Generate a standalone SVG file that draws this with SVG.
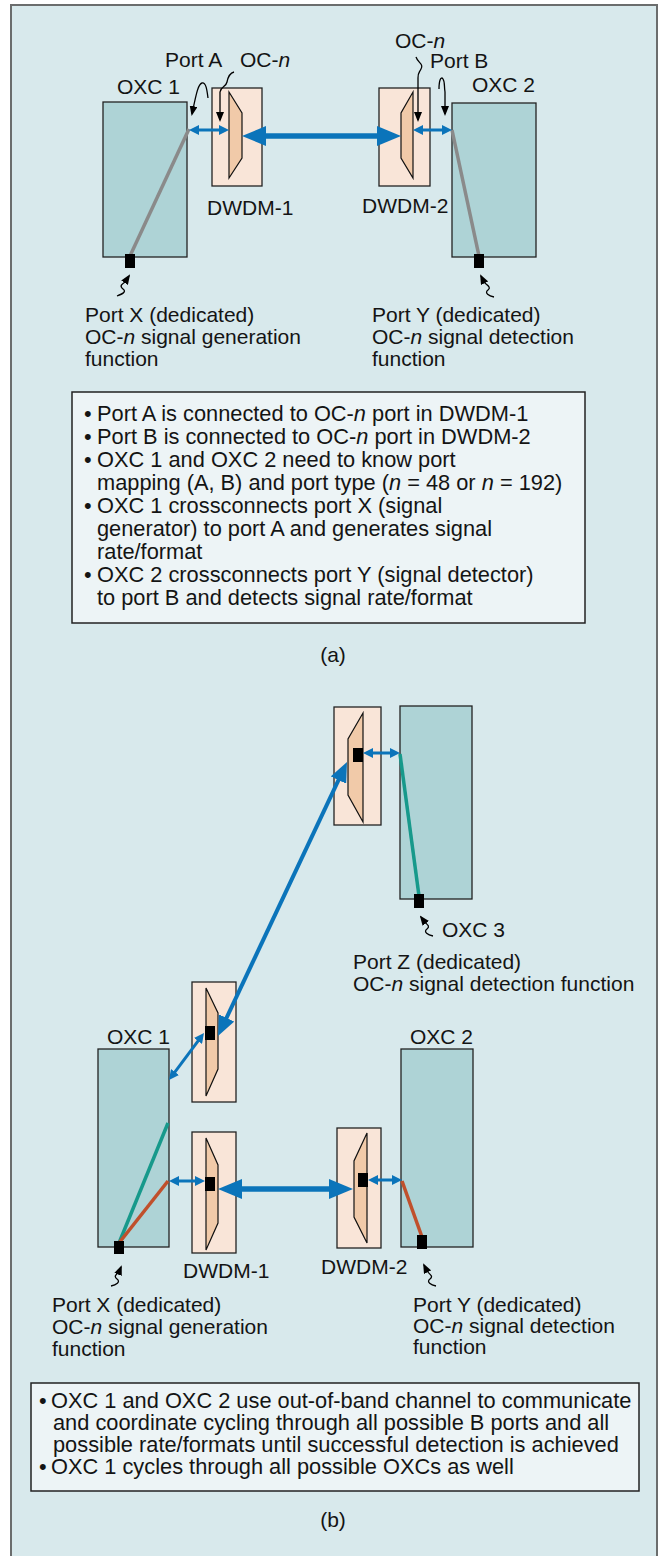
<svg xmlns="http://www.w3.org/2000/svg" width="661" height="1556" viewBox="0 0 661 1556">
<defs>
<style>
text{font-family:"Liberation Sans",Arial,sans-serif;font-size:21px;fill:#141414}
.bt{font-size:21.8px}
.i{font-style:italic}
.mid{text-anchor:middle}
.frame{fill:#d8e9ec;stroke:#6b6d6d;stroke-width:2}
.oxc{fill:#aed3d6;stroke:#222;stroke-width:1.3}
.dbox{fill:#f9e5d8;stroke:#222;stroke-width:1.3}
.trap{fill:#f1caa9;stroke:#111;stroke-width:1.2}
.port{fill:#000}
.note{fill:#edf4f6;stroke:#222;stroke-width:1.5}
.bs{stroke:#0b74ba;stroke-width:3;fill:none;marker-start:url(#hs);marker-end:url(#hs)}
.bl{stroke:#0b74ba;stroke-width:5.5;fill:none;marker-start:url(#hl);marker-end:url(#hl)}
.bm{stroke:#0b74ba;stroke-width:4;fill:none;marker-start:url(#hm);marker-end:url(#hm)}
.xg{stroke:#8a8a8a;stroke-width:3.5;fill:none}
.xt{stroke:#17998b;stroke-width:3.5;fill:none}
.xr{stroke:#c0502c;stroke-width:3.5;fill:none}
.co{stroke:#000;stroke-width:1.3;fill:none;marker-end:url(#hc)}
</style>
<marker id="hs" markerUnits="userSpaceOnUse" markerWidth="10" markerHeight="10" refX="4" refY="5" orient="auto-start-reverse"><path d="M0,0 L10,5 L0,10 z" fill="#0b74ba"/></marker>
<marker id="hl" markerUnits="userSpaceOnUse" markerWidth="24" markerHeight="20" refX="6" refY="10" orient="auto-start-reverse"><path d="M0,0 L24,10 L0,20 z" fill="#0b74ba"/></marker>
<marker id="hm" markerUnits="userSpaceOnUse" markerWidth="20" markerHeight="17" refX="5" refY="8.5" orient="auto-start-reverse"><path d="M0,0 L20,8.5 L0,17 z" fill="#0b74ba"/></marker>
<marker id="hc" markerUnits="userSpaceOnUse" markerWidth="10" markerHeight="8" refX="8" refY="4" orient="auto"><path d="M0,0 L10,4 L0,8 z" fill="#000"/></marker>
</defs>

<rect class="frame" x="11" y="5" width="646" height="1570"/>

<!-- ===== (a) ===== -->
<g id="oxc1-a">
<rect class="oxc" x="103" y="102" width="84" height="155"/>
<text x="117" y="94">OXC 1</text>
</g>
<g id="oxc2-a">
<rect class="oxc" x="452" y="103" width="84" height="154"/>
<text x="472" y="92">OXC 2</text>
</g>
<g id="dwdm1-a">
<rect class="dbox" x="212" y="88" width="50" height="98"/>
<polygon class="trap" points="229,92 242,113 242,158 229,178"/>
<text x="207" y="215">DWDM-1</text>
</g>
<g id="dwdm2-a">
<rect class="dbox" x="379" y="88" width="51" height="98"/>
<polygon class="trap" points="413,92 401,113 401,158 413,178"/>
<text x="362" y="213">DWDM-2</text>
</g>

<g id="connectors-a">
<line class="xg" x1="189" y1="129" x2="130" y2="256"/>
<line class="xg" x1="452" y1="130" x2="479" y2="256"/>
<line class="bs" x1="195" y1="130" x2="223" y2="130"/>
<line class="bs" x1="419" y1="130" x2="446" y2="130"/>
<line class="bl" x1="260" y1="136" x2="383" y2="136"/>
<path class="co" d="M208,98 C207,90 206,82 202,83 C198,84 196,95 192,114"/>
<path class="co" d="M234,72 C230,73 228,77 227,82 C226,87 221,86 220,92 L220,120"/>
<path class="co" d="M416,57 C418,63 424,64 421,69 C419,73 418,72 418,78 L418,120"/>
<path class="co" d="M439,89 C439,80 441,76 443,79 C445,82 444,86 445,92 L445,114"/>
<path class="co" d="M117,296 C122,294 127,292 123,289 C119,286 122,284 125,282 L129,276"/>
<path class="co" d="M494,297 C489,296 484,293 488,290 C492,287 486,285 484,282 L481,276"/>
</g>

<g id="port-x-a">
<rect class="port" x="125" y="254" width="10" height="14"/>
<text x="85" y="322">Port X (dedicated)</text>
<text x="85" y="344">OC-<tspan class="i">n</tspan> signal generation</text>
<text x="85" y="366">function</text>
</g>
<g id="port-y-a">
<rect class="port" x="474" y="254" width="10" height="14"/>
<text x="372" y="322">Port Y (dedicated)</text>
<text x="372" y="344">OC-<tspan class="i">n</tspan> signal detection</text>
<text x="372" y="366">function</text>
</g>
<g id="labels-a">
<text x="165" y="67">Port A</text>
<text x="240" y="67">OC-<tspan class="i">n</tspan></text>
<text x="395" y="48">OC-<tspan class="i">n</tspan></text>
<text x="430" y="68">Port B</text>
</g>

<g id="note-a">
<rect class="note" x="72" y="392" width="513" height="231"/>
<text class="bt" x="84" y="421">•</text><text class="bt" x="97" y="421">Port A is connected to OC-<tspan class="i">n</tspan> port in DWDM-1</text>
<text class="bt" x="84" y="444">•</text><text class="bt" x="97" y="444">Port B is connected to OC-<tspan class="i">n</tspan> port in DWDM-2</text>
<text class="bt" x="84" y="467">•</text><text class="bt" x="97" y="467">OXC 1 and OXC 2 need to know port</text>
<text class="bt" x="97" y="490">mapping (A, B) and port type (<tspan class="i">n</tspan> = 48 or <tspan class="i">n</tspan> = 192)</text>
<text class="bt" x="84" y="513">•</text><text class="bt" x="97" y="513">OXC 1 crossconnects port X (signal</text>
<text class="bt" x="97" y="536">generator) to port A and generates signal</text>
<text class="bt" x="97" y="559">rate/format</text>
<text class="bt" x="84" y="582">•</text><text class="bt" x="97" y="582">OXC 2 crossconnects port Y (signal detector)</text>
<text class="bt" x="97" y="605">to port B and detects signal rate/format</text>
</g>
<text class="mid" x="333" y="662">(a)</text>

<!-- ===== (b) ===== -->
<g id="oxc3-b">
<rect class="oxc" x="400" y="706" width="72" height="193"/>
<text x="442" y="937">OXC 3</text>
</g>
<g id="dwdm3-b">
<rect class="dbox" x="334" y="707" width="47" height="118"/>
<polygon class="trap" points="363,713 348,739 348,795 363,822"/>
<rect class="port" x="353" y="748" width="10" height="14"/>
</g>
<g id="oxc1-b">
<rect class="oxc" x="98" y="1049" width="71" height="198"/>
<text x="107" y="1044">OXC 1</text>
</g>
<g id="oxc2-b">
<rect class="oxc" x="401" y="1049" width="72" height="198"/>
<text x="410" y="1044">OXC 2</text>
</g>
<g id="dwdm-up-b">
<rect class="dbox" x="192" y="982" width="44" height="120"/>
<polygon class="trap" points="206,988 218,1013 218,1069 206,1096"/>
<rect class="port" x="205" y="1026" width="10" height="14"/>
</g>
<g id="dwdm1-b">
<rect class="dbox" x="192" y="1132" width="44" height="121"/>
<polygon class="trap" points="206,1138 218,1165 218,1223 206,1250"/>
<rect class="port" x="205" y="1177" width="10" height="14"/>
<text x="183" y="1278">DWDM-1</text>
</g>
<g id="dwdm2-b">
<rect class="dbox" x="337" y="1128" width="44" height="120"/>
<polygon class="trap" points="367,1133 354,1161 354,1217 367,1243"/>
<rect class="port" x="358" y="1173" width="10" height="14"/>
<text x="321" y="1274">DWDM-2</text>
</g>

<g id="connectors-b">
<line class="xt" x1="400" y1="754" x2="419" y2="896"/>
<line class="xt" x1="119" y1="1243" x2="168" y2="1123"/>
<line class="xr" x1="119" y1="1243" x2="168" y2="1181"/>
<line class="xr" x1="402" y1="1181" x2="422" y2="1237"/>
<line class="bs" x1="369" y1="753" x2="394" y2="753"/>
<line class="bm" x1="340.6" y1="775.6" x2="224.4" y2="1022.4"/>
<line class="bs" x1="200.4" y1="1037.8" x2="172.6" y2="1075.2"/>
<line class="bs" x1="175" y1="1181" x2="199" y2="1181"/>
<line class="bl" x1="236" y1="1189" x2="335" y2="1189"/>
<line class="bs" x1="374" y1="1180" x2="396" y2="1180"/>
<path class="co" d="M433,936 C428,935 423,932 427,929 C431,926 426,924 424,921 L421,917"/>
<path class="co" d="M111,1286 C116,1285 121,1282 117,1279 C113,1276 117,1274 119,1272 L121,1267"/>
<path class="co" d="M436,1286 C431,1285 426,1282 430,1279 C434,1276 429,1274 427,1271 L424,1265"/>
</g>

<g id="port-z-b">
<rect class="port" x="414" y="894" width="10" height="14"/>
<text x="353" y="969">Port Z (dedicated)</text>
<text x="353" y="991">OC-<tspan class="i">n</tspan> signal detection function</text>
</g>
<g id="port-x-b">
<rect class="port" x="114" y="1241" width="10" height="13"/>
<text x="52" y="1312">Port X (dedicated)</text>
<text x="52" y="1334">OC-<tspan class="i">n</tspan> signal generation</text>
<text x="52" y="1356">function</text>
</g>
<g id="port-y-b">
<rect class="port" x="417" y="1235" width="10" height="14"/>
<text x="413" y="1312">Port Y (dedicated)</text>
<text x="413" y="1333">OC-<tspan class="i">n</tspan> signal detection</text>
<text x="413" y="1354">function</text>
</g>

<g id="note-b">
<rect class="note" x="31" y="1383" width="608" height="108"/>
<text class="bt" x="39" y="1408">•</text><text class="bt" x="51" y="1408">OXC 1 and OXC 2 use out-of-band channel to communicate</text>
<text class="bt" x="53" y="1430">and coordinate cycling through all possible B ports and all</text>
<text class="bt" x="53" y="1452">possible rate/formats until successful detection is achieved</text>
<text class="bt" x="39" y="1474">•</text><text class="bt" x="51" y="1474">OXC 1 cycles through all possible OXCs as well</text>
</g>
<text class="mid" x="333" y="1527">(b)</text>
</svg>
